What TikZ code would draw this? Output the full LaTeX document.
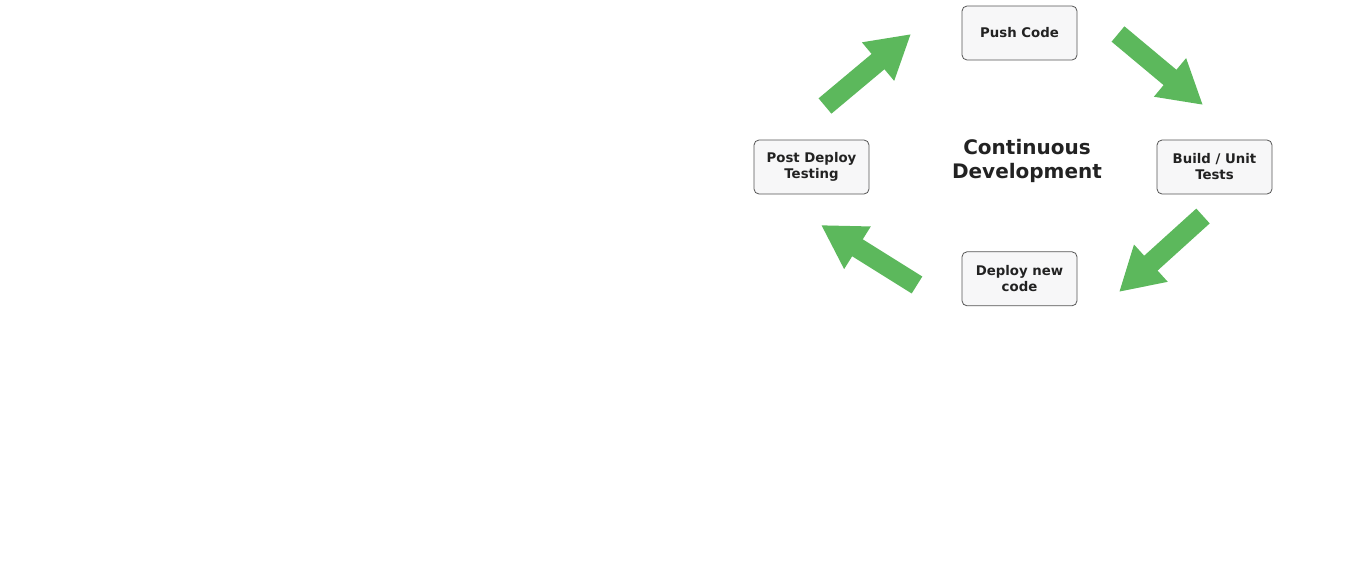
\documentclass[tikz,border=0pt]{standalone}
\usepackage{fontspec}
\setmainfont{DejaVu Sans}
\usetikzlibrary{positioning, arrows.meta}

\definecolor{boxfill}{HTML}{F7F7F8}
\definecolor{boxline}{HTML}{555555}
\definecolor{txt}{HTML}{222222}
\definecolor{flow}{HTML}{5CB85C}

\begin{document}
\begin{tikzpicture}[
    x=1pt, y=-1pt,
    stage/.style={rectangle, draw=boxline, fill=boxfill, line width=0.8pt, rounded corners=5pt,
        minimum width=115pt, minimum height=54pt, align=center, text=txt,
        font=\fontsize{13.3}{16}\selectfont\bfseries},
    title/.style={align=center, text=txt, font=\fontsize{20}{24}\selectfont\bfseries},
    bigarrow/.style={-{Triangle[length=43pt, width=47pt]}, line width=20pt, draw=flow},
]
\useasboundingbox (0,0) rectangle (1353,560);

% Stages
\node[stage] (push) at (1019.5,33) {Push Code};
\node[stage, below=191pt of push] (deploy) {Deploy new\\code};
\node[stage] (build) at (1214.5,167) {Build / Unit\\Tests};
\node[stage] (post) at (811.5,167) {Post Deploy\\Testing};

% Centre
\node[title] (cd) at (1027,161) {Continuous\\Development};

% Arrow ends
\coordinate (a1s) at (825,106);  \coordinate (a1e) at (911,34);
\coordinate (a2s) at (1118,34);  \coordinate (a2e) at (1203,105);
\coordinate (a3s) at (1203,216); \coordinate (a3e) at (1119,292);
\coordinate (a4s) at (917,285);  \coordinate (a4e) at (821,225);

% Cycle arrows
\draw[bigarrow] (a1s) -- (a1e);
\draw[bigarrow] (a2s) -- (a2e);
\draw[bigarrow] (a3s) -- (a3e);
\draw[bigarrow] (a4s) -- (a4e);

\end{tikzpicture}
\end{document}
